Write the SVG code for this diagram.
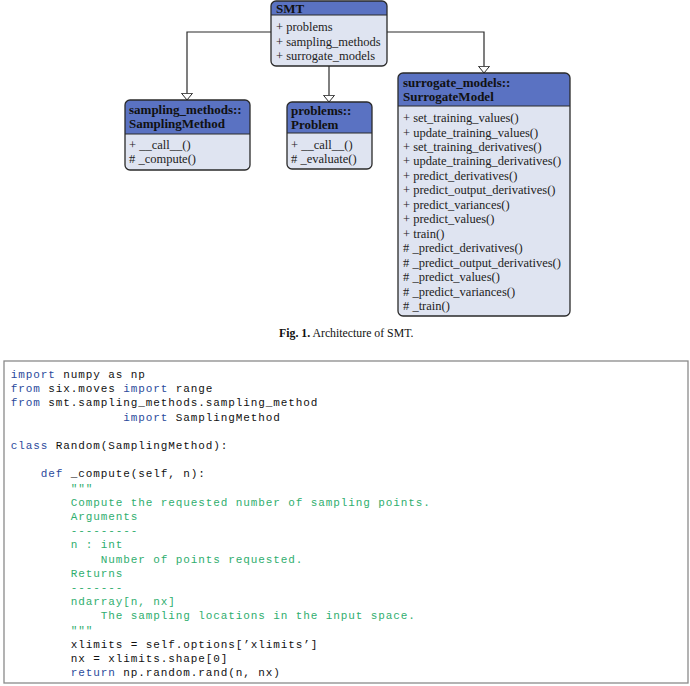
<svg xmlns="http://www.w3.org/2000/svg" width="690" height="686" viewBox="0 0 690 686">
<style>
.body{fill:#dfe4f1;}
.head{fill:#5a72c2;}
.outline{fill:none;stroke:#2a2a2a;stroke-width:1.3;}
.sep{stroke:#2a2a2a;stroke-width:1;}
.ht{font-family:"Liberation Serif",serif;font-weight:bold;font-size:13px;fill:#111;}
.rt{font-family:"Liberation Serif",serif;font-size:12.5px;fill:#222;}
.conn{fill:none;stroke:#2a2a2a;stroke-width:1.2;}
.code{font-family:"Liberation Mono",monospace;font-size:11px;letter-spacing:0.9px;fill:#111;}
.kw{fill:#2b4a9c;}
.st{fill:#2fae6e;}
.cap{font-family:"Liberation Serif",serif;font-size:11.8px;fill:#111;}
</style>
<defs>
<marker id="tri" viewBox="0 0 8 12" refX="7.2" refY="6" markerWidth="8" markerHeight="12" markerUnits="userSpaceOnUse" orient="auto">
<path d="M0.5,0.5 L7.2,6 L0.5,11.5 Z" fill="#fff" stroke="#2a2a2a" stroke-width="1"/>
</marker>
</defs>
<rect width="690" height="686" fill="#fff"/>

<g id="connectors">
<polyline class="conn" points="271,32 187,32 187,100" marker-end="url(#tri)"/>
<polyline class="conn" points="329,66 329,102" marker-end="url(#tri)"/>
<polyline class="conn" points="387,32 484,32 484,73" marker-end="url(#tri)"/>
</g>

<g id="smt">
<rect class="body" x="271" y="1" width="116" height="65" rx="5"/>
<path class="head" d="M271,15 V6 A5,5 0 0 1 276,1 H382 A5,5 0 0 1 387,6 V15 Z"/>
<line class="sep" x1="271" y1="15" x2="387" y2="15"/>
<rect class="outline" x="271" y="1" width="116" height="65" rx="5"/>
<text class="ht" x="276" y="13">SMT</text>
<text class="rt" x="276" y="31">+ problems</text>
<text class="rt" x="276" y="46">+ sampling_methods</text>
<text class="rt" x="276" y="60">+ surrogate_models</text>
</g>

<g id="sampling">
<rect class="body" x="125" y="100" width="125" height="70" rx="5"/>
<path class="head" d="M125,134 V105 A5,5 0 0 1 130,100 H245 A5,5 0 0 1 250,105 V134 Z"/>
<line class="sep" x1="125" y1="134" x2="250" y2="134"/>
<rect class="outline" x="125" y="100" width="125" height="70" rx="5"/>
<text class="ht" x="129" y="114">sampling_methods::</text>
<text class="ht" x="129" y="128">SamplingMethod</text>
<text class="rt" x="129" y="149">+ __call__()</text>
<text class="rt" x="129" y="163"># _compute()</text>
</g>

<g id="problems">
<rect class="body" x="287" y="102" width="85" height="67" rx="5"/>
<path class="head" d="M287,133 V107 A5,5 0 0 1 292,102 H367 A5,5 0 0 1 372,107 V133 Z"/>
<line class="sep" x1="287" y1="133" x2="372" y2="133"/>
<rect class="outline" x="287" y="102" width="85" height="67" rx="5"/>
<text class="ht" x="291" y="115">problems::</text>
<text class="ht" x="291" y="129">Problem</text>
<text class="rt" x="291" y="149">+ __call__()</text>
<text class="rt" x="291" y="163"># _evaluate()</text>
</g>

<g id="surrogate">
<rect class="body" x="398" y="73" width="172" height="243" rx="5"/>
<path class="head" d="M398,106 V78 A5,5 0 0 1 403,73 H565 A5,5 0 0 1 570,78 V106 Z"/>
<line class="sep" x1="398" y1="106" x2="570" y2="106"/>
<rect class="outline" x="398" y="73" width="172" height="243" rx="5"/>
<text class="ht" x="403" y="87">surrogate_models::</text>
<text class="ht" x="403" y="101">SurrogateModel</text>
<text class="rt" x="403" y="122">+ set_training_values()</text>
<text class="rt" x="403" y="136.5">+ update_training_values()</text>
<text class="rt" x="403" y="150.9">+ set_training_derivatives()</text>
<text class="rt" x="403" y="165.4">+ update_training_derivatives()</text>
<text class="rt" x="403" y="179.8">+ predict_derivatives()</text>
<text class="rt" x="403" y="194.3">+ predict_output_derivatives()</text>
<text class="rt" x="403" y="208.8">+ predict_variances()</text>
<text class="rt" x="403" y="223.2">+ predict_values()</text>
<text class="rt" x="403" y="237.7">+ train()</text>
<text class="rt" x="403" y="252.1"># _predict_derivatives()</text>
<text class="rt" x="403" y="266.6"># _predict_output_derivatives()</text>
<text class="rt" x="403" y="281"># _predict_values()</text>
<text class="rt" x="403" y="295.5"># _predict_variances()</text>
<text class="rt" x="403" y="310"># _train()</text>
</g>

<text class="cap" x="279" y="337"><tspan font-weight="bold">Fig. 1.</tspan> Architecture of SMT.</text>

<g id="code">
<rect x="4" y="361" width="684" height="322" fill="#fff" stroke="#8a8a8a" stroke-width="1.3"/>
<text class="code" x="10.7" y="378"><tspan class="kw">import</tspan> numpy as np</text>
<text class="code" x="10.7" y="392.2"><tspan class="kw">from</tspan> six.moves <tspan class="kw">import</tspan> range</text>
<text class="code" x="10.7" y="406.4"><tspan class="kw">from</tspan> smt.sampling_methods.sampling_method</text>
<text class="code" x="123.2" y="420.6"><tspan class="kw">import</tspan> SamplingMethod</text>
<text class="code" x="10.7" y="449"><tspan class="kw">class</tspan> Random(SamplingMethod):</text>
<text class="code" x="40.7" y="477.4"><tspan class="kw">def</tspan> _compute(self, n):</text>
<text class="code st" x="70.7" y="491.6">"""</text>
<text class="code st" x="70.7" y="505.8">Compute the requested number of sampling points.</text>
<text class="code st" x="70.7" y="520">Arguments</text>
<text class="code st" x="70.7" y="534.2">---------</text>
<text class="code st" x="70.7" y="548.4">n : int</text>
<text class="code st" x="100.7" y="562.6">Number of points requested.</text>
<text class="code st" x="70.7" y="576.8">Returns</text>
<text class="code st" x="70.7" y="591">-------</text>
<text class="code st" x="70.7" y="605.2">ndarray[n, nx]</text>
<text class="code st" x="100.7" y="619.4">The sampling locations in the input space.</text>
<text class="code st" x="70.7" y="633.6">"""</text>
<text class="code" x="70.7" y="647.8">xlimits = self.options[’xlimits’]</text>
<text class="code" x="70.7" y="662">nx = xlimits.shape[0]</text>
<text class="code" x="70.7" y="676.2"><tspan class="kw">return</tspan> np.random.rand(n, nx)</text>
</g>
</svg>
